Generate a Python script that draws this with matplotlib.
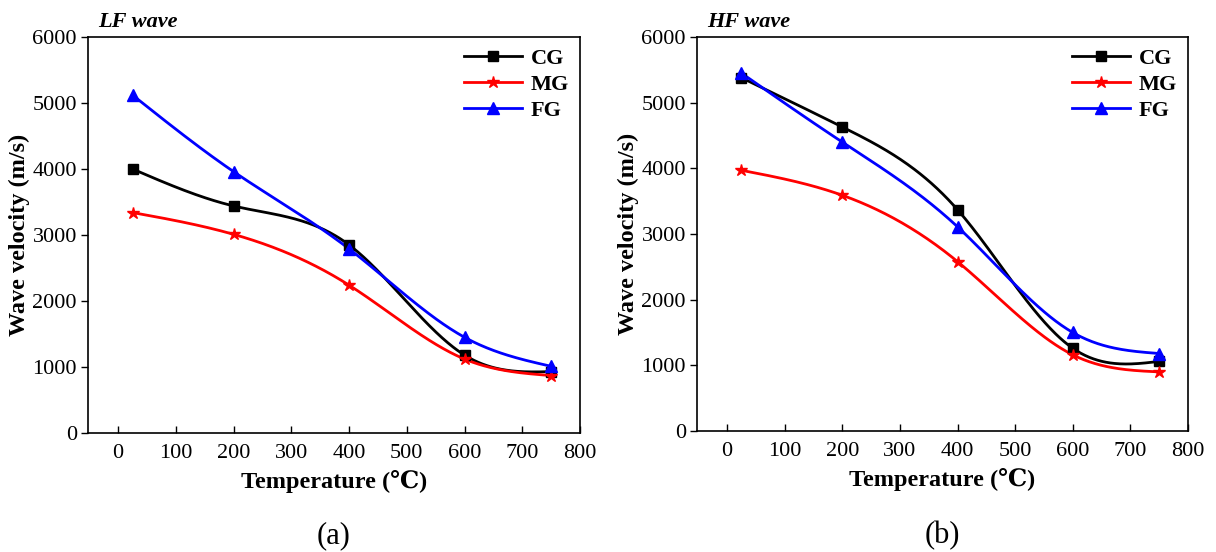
import numpy as np
import matplotlib
matplotlib.use('Agg')
import matplotlib.pyplot as plt

plt.rcParams['font.family'] = ['Liberation Serif', 'DejaVu Serif']

temps = [25, 200, 400, 600, 750]

# LF wave
lf_cg = [4000, 3440, 2850, 1180, 930]
lf_mg = [3340, 3010, 2240, 1120, 870]
lf_fg = [5120, 3960, 2790, 1450, 1010]

# HF wave
hf_cg = [5380, 4630, 3370, 1260, 1060]
hf_mg = [3970, 3590, 2580, 1160, 900]
hf_fg = [5450, 4400, 3110, 1500, 1180]

series_names = ['CG', 'MG', 'FG']
colors = ['black', 'red', 'blue']
markers = ['s', '*', '^']
msizes = [7, 9, 8]


def natural_spline(x, y, n=300):
    # natural cubic spline through the points, for smooth curve display
    x = np.asarray(x, float)
    y = np.asarray(y, float)
    k = len(x)
    h = np.diff(x)
    A = np.zeros((k, k))
    r = np.zeros(k)
    A[0, 0] = 1
    A[-1, -1] = 1
    for i in range(1, k - 1):
        A[i, i - 1] = h[i - 1]
        A[i, i] = 2 * (h[i - 1] + h[i])
        A[i, i + 1] = h[i]
        r[i] = 6 * ((y[i + 1] - y[i]) / h[i] - (y[i] - y[i - 1]) / h[i - 1])
    M = np.linalg.solve(A, r)
    xs = np.linspace(x[0], x[-1], n)
    idx = np.clip(np.searchsorted(x, xs) - 1, 0, k - 2)
    x0, x1 = x[idx], x[idx + 1]
    hh = x1 - x0
    a = (x1 - xs) / hh
    b = (xs - x0) / hh
    ys = a * y[idx] + b * y[idx + 1] + ((a ** 3 - a) * M[idx] + (b ** 3 - b) * M[idx + 1]) * hh ** 2 / 6
    return xs, ys


fig = plt.figure(figsize=(12.16, 5.52), dpi=100)
ax1 = fig.add_axes([0.0724, 0.2156, 0.4046, 0.7174])
ax2 = fig.add_axes([0.5732, 0.2192, 0.4038, 0.7138])

panels = [
    (ax1, [lf_cg, lf_mg, lf_fg], 'LF wave', '(a)'),
    (ax2, [hf_cg, hf_mg, hf_fg], 'HF wave', '(b)'),
]

for ax, data, title, tag in panels:
    for vals, name, c, m, ms in zip(data, series_names, colors, markers, msizes):
        xs, ys = natural_spline(temps, vals)
        ax.plot(xs, ys, color=c, lw=2, zorder=2)
        ax.plot(temps, vals, ls='none', marker=m, color=c, ms=ms, zorder=3)
        ax.plot([], [], color=c, lw=2, marker=m, ms=ms, label=name)
    ax.set_xlim(-52, 800)
    ax.set_ylim(0, 6000)
    ax.set_xticks(range(0, 801, 100))
    ax.set_yticks(range(0, 6001, 1000))
    ax.tick_params(axis='x', direction='in', length=5, width=1, labelsize=16, pad=8)
    ax.tick_params(axis='y', direction='out', length=5, width=1, labelsize=16, pad=3)
    for s in ax.spines.values():
        s.set_linewidth(1.2)
    ax.set_xlabel('Temperature (℃)', fontsize=17.5, fontweight='bold', labelpad=5)
    ax.set_ylabel('Wave velocity (m/s)', fontsize=17.5, fontweight='bold', labelpad=2)
    ax.text(0.02, 1.012, title, transform=ax.transAxes, fontsize=16,
            fontweight='bold', fontstyle='italic', ha='left', va='bottom')
    pos = ax.get_position()
    fig.text((pos.x0 + pos.x1) / 2, 0.03, tag, fontsize=22, ha='center', va='center')
    ax.legend(loc='upper right', frameon=False, prop={'weight': 'bold', 'size': 16},
              handlelength=2.6, borderaxespad=0.1, labelspacing=0.25, handletextpad=0.4)

fig.savefig('out.png', dpi=100)
